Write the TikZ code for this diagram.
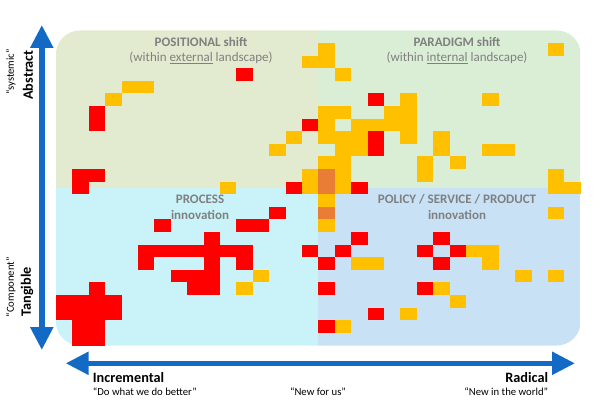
\documentclass[tikz,border=0pt]{standalone}
\usepackage{fontspec}
\setmainfont{Carlito}
\usepackage{tikz}
\usetikzlibrary{positioning,arrows.meta}

\definecolor{tlgreen}{RGB}{226,234,207}
\definecolor{trgreen}{RGB}{218,238,214}
\definecolor{blcyan}{RGB}{201,243,248}
\definecolor{brblue}{RGB}{200,225,245}
\definecolor{cellred}{RGB}{255,0,0}
\definecolor{cellgold}{RGB}{255,192,0}
\definecolor{celldark}{RGB}{233,125,53}
\definecolor{axisblue}{RGB}{19,106,196}
\definecolor{textgray}{RGB}{128,128,128}

\begin{document}
\begin{tikzpicture}[x=1pt,y=-1pt,
  quadtitle/.style={inner sep=0pt,text=textgray,font=\fontsize{13}{15}\selectfont\bfseries},
  quadsub/.style={inner sep=0pt,text=textgray,font=\fontsize{13}{15}\selectfont},
  axislabel/.style={inner sep=0pt,font=\fontsize{14.3}{16}\selectfont\bfseries},
  axisquote/.style={inner sep=0pt,font=\fontsize{10.7}{12}\selectfont},
  axis/.style={<->,>={Triangle[width=22pt,length=23pt]},line width=5.5pt,draw=axisblue},
]
\useasboundingbox (0,0) rectangle (600,406);

% ==== QUADRANTS ====
\begin{scope}
  \clip[rounded corners=24pt] (55.9,30.5) rectangle (580.7,345.5);
  \fill[tlgreen] (55.9,30.5) rectangle (318.3,188);
  \fill[trgreen] (318.3,30.5) rectangle (580.7,188);
  \fill[blcyan] (55.9,188) rectangle (318.3,345.5);
  \fill[brblue] (318.3,188) rectangle (580.7,345.5);
\end{scope}

% ==== CELLS (column/row on the grid) ====
\foreach \c/\r in {11/3,2/6,2/7,1/11,2/11,1/12,15/7,14/12,19/5,19/8,19/9,18/12,
  13/14,6/15,11/15,12/15,9/16,5/17,6/17,7/17,8/17,9/17,10/17,11/17,5/18,9/18,11/18,
  7/19,8/19,9/19,8/20,9/20,2/20,0/21,1/21,2/21,3/21,0/22,1/22,2/22,3/22,1/23,2/23,
  1/24,2/24,15/17,18/16,23/16,17/17,22/17,24/17,16/18,23/18,16/20,22/20,19/22,16/23}
  \fill[cellred] ({55.9+16.4*\c},{30.5+12.6*\r}) rectangle ++(16.4,12.6);

\foreach \c/\r in {4/4,5/4,3/5,15/2,13/9,14/8,15/11,15/12,10/12,
  16/1,16/2,17/3,21/5,16/6,17/6,20/6,21/6,16/7,18/7,19/7,20/7,21/7,16/8,17/8,18/8,
  21/8,23/8,17/9,18/9,23/9,16/10,17/10,22/10,22/11,17/11,17/12,16/13,16/15,
  30/1,26/5,26/9,27/9,24/10,30/11,30/12,31/12,
  12/19,11/20,18/18,19/18,23/20,24/21,21/22,17/23,25/17,26/17,26/18,28/19,30/19,30/14}
  \fill[cellgold] ({55.9+16.4*\c},{30.5+12.6*\r}) rectangle ++(16.4,12.6);

\foreach \c/\r in {16/11,16/12,16/14}
  \fill[celldark] ({55.9+16.4*\c},{30.5+12.6*\r}) rectangle ++(16.4,12.6);

% ==== QUADRANT TITLES ====
\node[quadtitle] (posT) at (201,42) {POSITIONAL shift};
\node[quadsub] (posS) at (201,58) {(within \underline{external} landscape)};
\node[quadtitle] (parT) at (457,42) {PARADIGM shift};
\node[quadsub] (parS) at (457,58) {(within \underline{internal} landscape)};
\node[quadtitle] (proT) at (200,199) {PROCESS};
\node[quadtitle] (proS) at (200,214.5) {innovation};
\node[quadtitle] (polT) at (457,199) {POLICY / SERVICE / PRODUCT};
\node[quadtitle] (polS) at (457,214.5) {innovation};

% ==== AXES ====
\coordinate (vtop) at (41.8,25);
\coordinate (vbot) at (41.8,350);
\coordinate (hleft) at (65.7,363.3);
\coordinate (hright) at (575,363.3);
\draw[axis] (vtop) -- (vbot);
\draw[axis] (hleft) -- (hright);

\node[axislabel,rotate=90] (abst) at (28,75) {Abstract};
\node[axisquote,rotate=90] (syst) at (11,72) {“systemic”};
\node[axislabel,rotate=90] (tang) at (27,292) {Tangible};
\node[axisquote,rotate=90] (comp) at (11,287) {“Component”};

\node[axislabel,anchor=west] (incr) at (92.7,377.5) {Incremental};
\node[axisquote,anchor=west] (better) at (92.7,392) {“Do what we do better”};
\node[axisquote] (newus) at (318,392) {“New for us”};
\node[axislabel,anchor=east] (radi) at (548.3,377.5) {Radical};
\node[axisquote,anchor=east] (world) at (548.3,392) {“New in the world”};

\end{tikzpicture}
\end{document}
